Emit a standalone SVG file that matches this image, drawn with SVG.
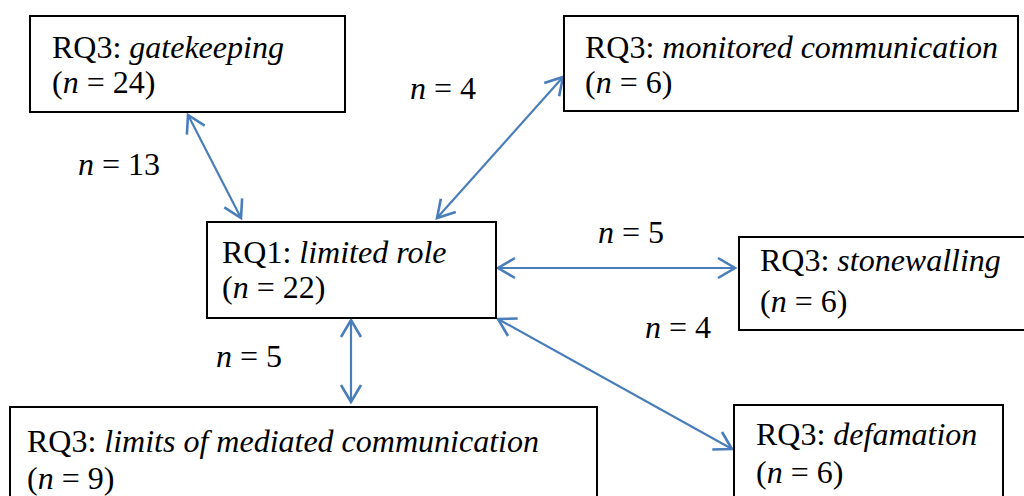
<svg xmlns="http://www.w3.org/2000/svg" width="1024" height="496" viewBox="0 0 1024 496">
<defs>
<marker id="ah" viewBox="0 0 24 24" refX="21" refY="12" markerWidth="24" markerHeight="24" markerUnits="userSpaceOnUse" orient="auto-start-reverse">
<path d="M4,2 L21,12 L4,22" fill="none" stroke="#4a7ebb" stroke-width="2.6"/>
</marker>
</defs>
<rect width="1024" height="496" fill="#fff"/>
<g id="connectors" stroke="#4a7ebb" stroke-width="2.2" fill="none" marker-start="url(#ah)" marker-end="url(#ah)">
<line x1="188" y1="115" x2="241" y2="218" marker-start="url(#ah)" marker-end="url(#ah)"/>
<line x1="563" y1="77" x2="437" y2="218" marker-start="url(#ah)" marker-end="url(#ah)"/>
<line x1="498" y1="268" x2="735" y2="268" marker-start="url(#ah)" marker-end="url(#ah)"/>
<line x1="351" y1="320" x2="351" y2="402" marker-start="url(#ah)" marker-end="url(#ah)"/>
<line x1="498" y1="319" x2="732" y2="449" marker-start="url(#ah)" marker-end="url(#ah)"/>
</g>
<g id="labels" font-size="32" fill="#000">
<text font-family="Liberation Serif" font-style="italic" x="410" y="99">n</text><text font-family="Liberation Serif, serif" x="434" y="99">= 4</text>
<text font-family="Liberation Serif" font-style="italic" x="78" y="175">n</text><text font-family="Liberation Serif, serif" x="102" y="175">= 13</text>
<text font-family="Liberation Serif" font-style="italic" x="598" y="243">n</text><text font-family="Liberation Serif, serif" x="622" y="243">= 5</text>
<text font-family="Liberation Serif" font-style="italic" x="645" y="338">n</text><text font-family="Liberation Serif, serif" x="669" y="338">= 4</text>
<text font-family="Liberation Serif" font-style="italic" x="216" y="367">n</text><text font-family="Liberation Serif, serif" x="240" y="367">= 5</text>
</g>
<g id="gatekeeping" font-size="32" fill="#000">
<rect x="30" y="16" width="315" height="96" fill="#fff" stroke="#000" stroke-width="2"/>
<text font-family="Liberation Serif, serif" x="52" y="58">RQ3:</text><text font-family="Liberation Serif" font-style="italic" x="129.3" y="58">gatekeeping</text>
<text font-family="Liberation Serif, serif" x="52" y="93">(</text><text font-family="Liberation Serif" font-style="italic" x="62.7" y="93">n</text><text font-family="Liberation Serif, serif" x="86.7" y="93">= 24)</text>
</g>
<g id="monitored" font-size="32" fill="#000">
<rect x="564" y="16" width="454" height="95" fill="#fff" stroke="#000" stroke-width="2"/>
<text font-family="Liberation Serif, serif" x="585" y="58">RQ3:</text><text font-family="Liberation Serif" font-style="italic" x="662.3" y="58">monitored communication</text>
<text font-family="Liberation Serif, serif" x="585" y="93">(</text><text font-family="Liberation Serif" font-style="italic" x="595.7" y="93">n</text><text font-family="Liberation Serif, serif" x="619.7" y="93">= 6)</text>
</g>
<g id="limited" font-size="32" fill="#000">
<rect x="207" y="222" width="289" height="96" fill="#fff" stroke="#000" stroke-width="2"/>
<text font-family="Liberation Serif, serif" x="222" y="263">RQ1:</text><text font-family="Liberation Serif" font-style="italic" x="299.3" y="263">limited role</text>
<text font-family="Liberation Serif, serif" x="222" y="298">(</text><text font-family="Liberation Serif" font-style="italic" x="232.7" y="298">n</text><text font-family="Liberation Serif, serif" x="256.7" y="298">= 22)</text>
</g>
<g id="stonewalling" font-size="32" fill="#000">
<rect x="739" y="237" width="300" height="93" fill="#fff" stroke="#000" stroke-width="2"/>
<text font-family="Liberation Serif, serif" x="760" y="271">RQ3:</text><text font-family="Liberation Serif" font-style="italic" x="837.3" y="271">stonewalling</text>
<text font-family="Liberation Serif, serif" x="760" y="312">(</text><text font-family="Liberation Serif" font-style="italic" x="770.7" y="312">n</text><text font-family="Liberation Serif, serif" x="794.7" y="312">= 6)</text>
</g>
<g id="limits" font-size="32" fill="#000">
<rect x="10" y="407" width="587" height="100" fill="#fff" stroke="#000" stroke-width="2"/>
<text font-family="Liberation Serif, serif" x="27" y="452">RQ3:</text><text font-family="Liberation Serif" font-style="italic" x="104.3" y="452">limits of mediated communication</text>
<text font-family="Liberation Serif, serif" x="27" y="489">(</text><text font-family="Liberation Serif" font-style="italic" x="37.7" y="489">n</text><text font-family="Liberation Serif, serif" x="61.7" y="489">= 9)</text>
</g>
<g id="defamation" font-size="32" fill="#000">
<rect x="734" y="405" width="269" height="100" fill="#fff" stroke="#000" stroke-width="2"/>
<text font-family="Liberation Serif, serif" x="756" y="445">RQ3:</text><text font-family="Liberation Serif" font-style="italic" x="833.3" y="445">defamation</text>
<text font-family="Liberation Serif, serif" x="756" y="483">(</text><text font-family="Liberation Serif" font-style="italic" x="766.7" y="483">n</text><text font-family="Liberation Serif, serif" x="790.7" y="483">= 6)</text>
</g>
</svg>
